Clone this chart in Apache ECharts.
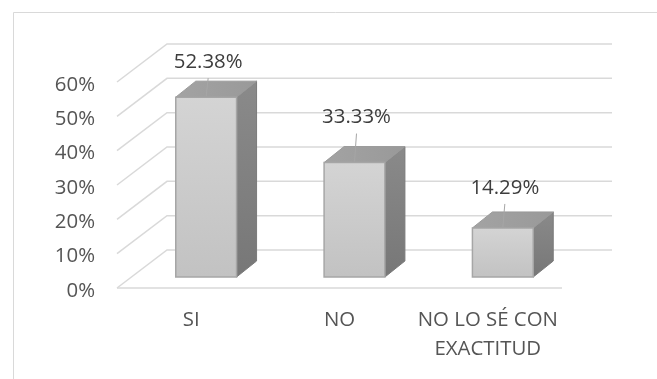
<!DOCTYPE html>
<html>
<head>
<meta charset="utf-8">
<script src="https://cdn.jsdelivr.net/npm/echarts@6/dist/echarts.min.js"></script>
<style>
  html, body { margin: 0; padding: 0; background: #ffffff; }
  #chart { width: 657px; height: 379px; }
</style>
</head>
<body>
<div id="chart"></div>
<script>
// Survey answers and their shares (percent)
const categories = ['SI', 'NO', 'NO LO SÉ CON\nEXACTITUD'];
const shares = [52.38, 33.33, 14.29];
const tickValues = [0, 10, 20, 30, 40, 50, 60];

// Layout: how far each value label sits above its bar's front top edge (px)
const labelLift = [35, 45, 40];

// Pseudo-3D geometry (pixel offsets)
const FLOOR_DEPTH = [50, -38];   // front edge of the floor -> back wall
const BAR_FRONT = [15, -11];     // front edge of the floor -> bar front face
const BAR_DEPTH = [20, -16];     // bar front face -> bar back face
const BAR_WIDTH_RATIO = 0.41;

const GRID_COLOR = '#d9d9d9';
const AXIS_TEXT = '#555555';
const VALUE_TEXT = '#3d3d3d';
const FONT = '"Open Sans", sans-serif';
const FONT_SIZE = 20.4;

const chart = echarts.init(document.getElementById('chart'), null, { renderer: 'canvas' });

// Back wall gridlines, the diagonals along the left side wall and the tick labels
function renderWall(params, api) {
  const v = api.value(1);
  const band = api.size([1, 0])[0];
  const left = api.coord([0, v]);
  const right = api.coord([categories.length - 1, v]);
  const xL = left[0] - band / 2;
  const xR = right[0] + band / 2;
  const y = left[1];
  const [bx, by] = FLOOR_DEPTH;
  const lineStyle = { stroke: GRID_COLOR, lineWidth: 1.5, fill: null };
  const children = [
    {
      type: 'polyline',
      shape: { points: [[xL, y], [xL + bx, y + by], [xR + bx, y + by]] },
      style: lineStyle
    },
    {
      type: 'text',
      style: {
        x: xL - 22,
        y: y + 3,
        text: v + '%',
        fill: AXIS_TEXT,
        font: FONT_SIZE + 'px ' + FONT,
        align: 'right',
        verticalAlign: 'middle'
      }
    }
  ];
  if (v === 0) {
    children.push({ type: 'line', shape: { x1: xL, y1: y, x2: xR, y2: y }, style: lineStyle });
  }
  return { type: 'group', children };
}

// A box-shaped column with its value label and leader line
function renderBar(params, api) {
  const idx = api.value(0);
  const val = api.value(1);
  const band = api.size([1, 0])[0];
  const w = band * BAR_WIDTH_RATIO;
  const base = api.coord([idx, 0]);
  const top = api.coord([idx, val]);
  const cx = base[0] + BAR_FRONT[0];
  const x0 = cx - w / 2;
  const x1 = cx + w / 2;
  const yB = base[1] + BAR_FRONT[1];
  const yT = top[1] + BAR_FRONT[1];
  const [dx, dy] = BAR_DEPTH;
  const lift = labelLift[params.dataIndex];

  return {
    type: 'group',
    children: [
      {
        type: 'polygon',
        shape: { points: [[x1, yT], [x1 + dx, yT + dy], [x1 + dx, yB + dy], [x1, yB]] },
        style: {
          fill: new echarts.graphic.LinearGradient(0, 0, 0, 1, [
            { offset: 0, color: '#8a8a8a' },
            { offset: 1, color: '#777777' }
          ]),
          stroke: '#7a7a7a', lineWidth: 1
        }
      },
      {
        type: 'polygon',
        shape: { points: [[x0, yT], [x0 + dx, yT + dy], [x1 + dx, yT + dy], [x1, yT]] },
        style: {
          fill: new echarts.graphic.LinearGradient(0, 0, 1, 0, [
            { offset: 0, color: '#a3a3a3' },
            { offset: 1, color: '#999999' }
          ]),
          stroke: '#9a9a9a', lineWidth: 1
        }
      },
      {
        type: 'rect',
        shape: { x: x0, y: yT, width: w, height: yB - yT },
        style: {
          fill: new echarts.graphic.LinearGradient(0, 0, 0, 1, [
            { offset: 0, color: '#d4d4d4' },
            { offset: 1, color: '#c2c2c2' }
          ]),
          stroke: '#a6a6a6', lineWidth: 1.5
        }
      },
      {
        type: 'line',
        shape: { x1: cx + 2, y1: yT - lift + 16, x2: cx, y2: yT - 1 },
        style: { stroke: '#a6a6a6', lineWidth: 1 }
      },
      {
        type: 'text',
        style: {
          x: cx + 2,
          y: yT - lift,
          text: val.toFixed(2) + '%',
          fill: VALUE_TEXT,
          font: FONT_SIZE + 'px ' + FONT,
          align: 'center',
          verticalAlign: 'middle'
        }
      }
    ]
  };
}

chart.setOption({
  animation: false,
  backgroundColor: '#ffffff',
  graphic: [{
    type: 'rect',
    left: 11, top: 10,
    shape: { width: 800, height: 500 },
    style: { fill: null, stroke: GRID_COLOR, lineWidth: 1 },
    silent: true
  }],
  grid: { left: 117, right: 95, top: 82, bottom: 91, containLabel: false },
  xAxis: {
    type: 'category',
    data: categories,
    boundaryGap: true,
    axisLine: { show: false },
    axisTick: { show: false },
    splitLine: { show: false },
    axisLabel: {
      margin: 18,
      color: AXIS_TEXT,
      fontFamily: FONT,
      fontSize: FONT_SIZE,
      lineHeight: 29,
      interval: 0
    }
  },
  yAxis: {
    type: 'value',
    min: 0, max: 60, interval: 10,
    axisLine: { show: false },
    axisTick: { show: false },
    splitLine: { show: false },
    axisLabel: { show: false }
  },
  series: [
    {
      type: 'custom',
      name: 'wall',
      silent: true,
      z: 1,
      data: tickValues.map(v => [0, v]),
      renderItem: renderWall
    },
    {
      type: 'custom',
      name: 'shares',
      z: 2,
      data: shares.map((v, i) => [i, v]),
      renderItem: renderBar
    }
  ]
});
</script>
</body>
</html>
